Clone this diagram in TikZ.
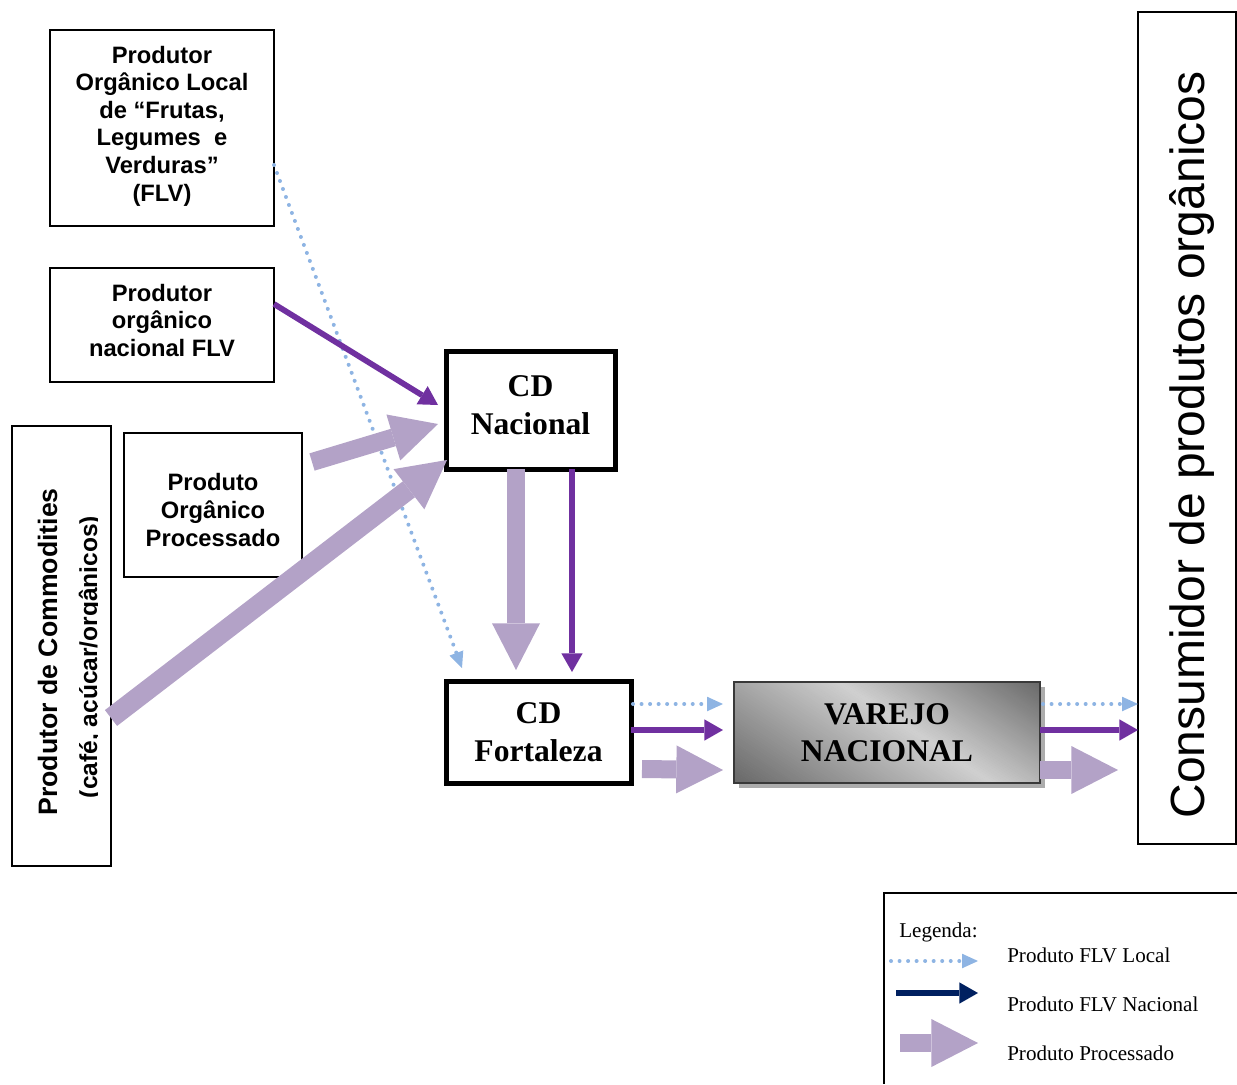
\documentclass[tikz,border=0pt]{standalone}
\usepackage{fontspec}
\setmainfont{Liberation Serif}
\newfontfamily\arial{Liberation Sans}
\usetikzlibrary{arrows.meta,calc,shadows}
\definecolor{flvlocal}{HTML}{8EB4E3}
\definecolor{flvnac}{HTML}{7030A0}
\definecolor{procc}{HTML}{B3A2C7}
\definecolor{navyc}{HTML}{002060}

\begin{document}
\begin{tikzpicture}[x=0.75pt,y=-0.75pt,
  box/.style={draw, line width=1.5pt, inner sep=0pt, outer sep=0pt},
  boxtext/.style={inner sep=0pt, align=center, font=\arial\bfseries\fontsize{17.8}{20.7}\selectfont},
  cdbox/.style={draw, line width=3.75pt, inner sep=0pt, outer sep=0pt},
  cdtext/.style={inner sep=0pt, align=center, font=\bfseries\fontsize{23.7}{28.2}\selectfont},
  localarrow/.style={flvlocal, line width=3pt, dash pattern=on 0pt off 6.4pt, line cap=round,
    -{Triangle[length=12pt,width=11pt,line width=0pt]}},
  natarrow/.style={flvnac, line width=4.3pt,
    -{Triangle[length=14pt,width=16pt,line width=0pt]}},
  procarrow/.style={procc, line width=13.5pt,
    -{Triangle[length=35pt,width=36pt,line width=0pt]}},
  legtext/.style={anchor=west, inner sep=0pt, font=\fontsize{15.8}{18}\selectfont}
]
\useasboundingbox (0,0) rectangle (1237,1084);

% producers
\node[box, minimum width=168pt, minimum height=147pt] (flv) at (162,128) {};
\node[boxtext] (flvT) at (162,126)
  {Produtor\\Orgânico Local\\de “Frutas,\\Legumes~ e\\Verduras”\\(FLV)};
\node[box, minimum width=168pt, minimum height=85.5pt] (nac) at (162,325) {};
\node[boxtext] (nacT) at (162,320.5) {Produtor\\orgânico\\nacional FLV};
\node[box, minimum width=133.5pt, minimum height=108pt] (proc) at (213,505) {};
\node[boxtext] (procT) at (213,510) {Produto\\Orgânico\\Processado};
\node[box, minimum width=74.25pt, minimum height=330pt] (comm) at (61.5,646) {};
\node[rotate=90, anchor=base, inner sep=0pt, font=\arial\bfseries\fontsize{20}{24}\selectfont]
  (commA) at (57,652) {Produtor de Commodities};
\begin{scope}
  \clip (60,430) rectangle (97.5,860);
  \node[rotate=90, anchor=base, inner sep=0pt, font=\arial\bfseries\fontsize{18.4}{22}\selectfont]
    (commB) at (97,657) {(café, açúcar/orgânicos)};
\end{scope}

% distribution centres
\node[cdbox, minimum width=126.75pt, minimum height=88.5pt] (cdn) at (530.5,410) {};
\node[cdtext] (cdnT) at (530.5,405) {CD\\Nacional};
\node[cdbox, minimum width=138.75pt, minimum height=76.5pt] (cdf) at (538.5,732) {};
\node[cdtext] (cdfT) at (538.5,732) {CD\\Fortaleza};

% retail: shadowed box with a diagonal grey gradient
\node[fill=gray!70, inner sep=0pt, outer sep=0pt,
  minimum width=229.5pt, minimum height=75.75pt,
  drop shadow={shadow xshift=3.5pt, shadow yshift=-3.5pt, fill=gray!65, opacity=1}]
  (var) at (887,732.5) {};
\begin{scope}
  \clip (var.north west) rectangle (var.south east);
  \begin{scope}[shift={(var.center)}, x={(0.41325pt,0.6255pt)}, y={(0.6255pt,-0.41325pt)}]
    \foreach \p in {-132,-130,...,132} {
      \pgfmathsetmacro\lev{\p<=15 ? 59-(\p+126)/141*40.5 : 18.5+(\p-15)/111*40.5}
      \pgfmathsetmacro\lev{max(10,min(65,\lev))}
      \fill[black!\lev] (\p,-220) -- (\p+2.4,-220) -- (\p+2.4,220) -- (\p,220) -- cycle;
    }
  \end{scope}
\end{scope}
\draw[gray!45!black, line width=0.9pt] (var.north west) rectangle (var.south east);
\node[cdtext, font=\bfseries\fontsize{23.7}{27.8}\selectfont] (varT) at (var.center) {VAREJO\\NACIONAL};

% consumer
\node[draw, line width=1.5pt, inner sep=0pt, outer sep=0pt, minimum width=73.5pt, minimum height=624pt]
  (cons) at (1187,428) {};
\node[rotate=90, anchor=base, inner sep=0pt, font=\arial\fontsize{36}{40}\selectfont]
  (consT) at (1204,445) {Consumidor de produtos orgânicos};

% flows into CD Nacional / CD Fortaleza
\draw[localarrow] ($(flv.north east)+(0,135)$) -- ($(cdf.north west)+(16,-13)$);
\draw[natarrow] ($(nac.north east)+(0,36)$) -- ($(cdn.west)+(-8,-5)$);
\draw[procarrow] ($(proc.north east)+(10,29)$) -- ($(cdn.west)+(-8,14)$);
\draw[procarrow, line width=15pt, -{Triangle[length=36pt,width=38pt,line width=0pt]}]
  ($(comm.east)+(0,72)$) -- ($(cdn.south west)+(1,-9)$);
\draw[procarrow] ($(cdn.south west)+(70,0)$) -- ($(cdf.north west)+(70,-11)$);
\draw[natarrow] ($(cdn.south west)+(126,0)$) -- ($(cdf.north west)+(126,-9)$);

% CD Fortaleza to retail
\draw[localarrow] ($(cdf.north east)+(2,23)$) -- ($(var.north west)+(-11,22)$);
\draw[natarrow] ($(cdf.north east)+(0,49)$) -- ($(var.north west)+(-11,48)$);
\draw[procarrow] ($(cdf.north east)+(11,88)$) -- ($(var.north west)+(-11,88)$);

% retail to consumer
\draw[localarrow] ($(var.north east)+(3,22)$) -- ($(cons.south west)+(0,-140)$);
\draw[natarrow] ($(var.north east)+(0,48)$) -- ($(cons.south west)+(0,-114)$);
\draw[procarrow] ($(var.north east)+(0,88)$) -- ($(cons.south west)+(-20,-74)$);

% legend
\draw[line width=1.1pt] (1237,893) -- (884,893) -- (884,1084);
\node[legtext] (leg) at (899,932) {Legenda:};
\coordinate (l1a) at (891,961);
\coordinate (l1b) at (978,961);
\coordinate (l2a) at (896,993);
\coordinate (l2b) at (978,993);
\coordinate (l3a) at (900,1043);
\coordinate (l3b) at (978,1043);
\draw[localarrow] (l1a) -- (l1b);
\draw[natarrow, navyc] (l2a) -- (l2b);
\draw[procarrow] (l3a) -- (l3b);
\node[legtext] (leg1) at (1007,955) {Produto FLV Local};
\node[legtext] (leg2) at (1007,1004) {Produto FLV Nacional};
\node[legtext] (leg3) at (1007,1053) {Produto Processado};
\end{tikzpicture}
\end{document}
